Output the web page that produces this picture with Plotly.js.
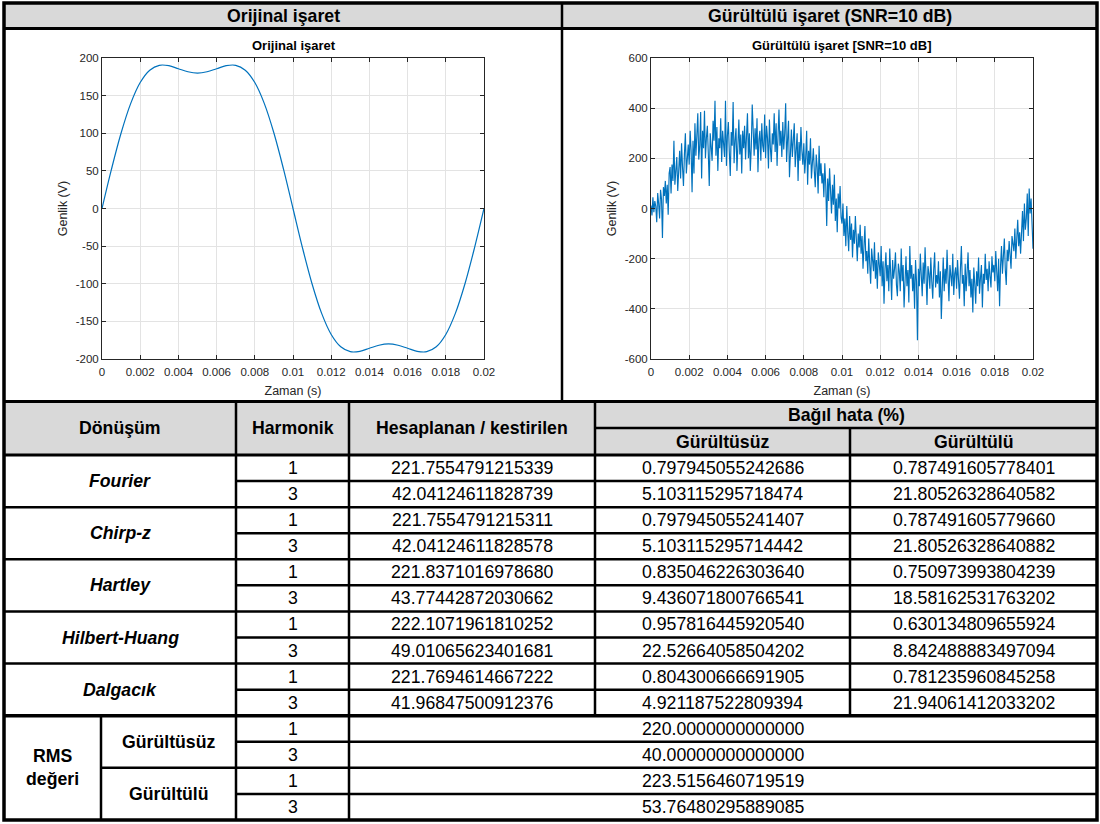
<!DOCTYPE html>
<html><head><meta charset="utf-8">
<script src="https://cdn.plot.ly/plotly-3.0.1.min.js"></script>
<style>html,body{margin:0;padding:0;background:#fff}#chart{width:1100px;height:824px}</style>
</head><body><div id="chart"></div>
<script>
// ---------- data ----------
const originalStep = 0.0005; // s between samples of the clean signal
const originalSignal = [0, 52.6, 100.3, 139.4, 167.4, 183.8, 190.3, 189.8, 185.7, 181.7, 180,
  181.7, 185.7, 189.8, 190.3, 183.8, 167.4, 139.4, 100.3, 52.6, 0,
  -52.6, -100.3, -139.4, -167.4, -183.8, -190.3, -189.8, -185.7, -181.7, -180,
  -181.7, -185.7, -189.8, -190.3, -183.8, -167.4, -139.4, -100.3, -52.6, 0];

const noisyStep = 0.00005; // s between samples of the noisy signal
const noisySignal = [
  12, -28, 45, -15, 30, 8, -55, 62, 20, -40, 75, 38, -118, 85, 50, 110, 20, 95, -25, 140,
  165, 60, 175, 110, 270, 95, 150, 205, 70, 180, 230, 120, 260, 165, 90, 215, 300, 140, 200, 255,
  175, 310, 230, 65, 270, 140, 340, 210, 290, 380, 195, 250, 385, 120, 310, 240, 390, 200, 280, 330,
  220, 90, 300, 255, 190, 350, 270, 430, 210, 325, 150, 280, 240, 360, 185, 310, 265, 205, 430, 170,
  290, 345, 225, 130, 305, 250, 425, 180, 270, 320, 150, 260, 355, 215, 295, 140, 310, 240, 330, 195,
  265, 380, 200, 300, 150, 245, 415, 280, 210, 320, 235, 360, 145, 275, 310, 190, 340, 250, 225, 375,
  200, 330, 280, 160, 355, 240, 185, 300, 255, 380, 225, 340, 170, 290, 395, 250, 310, 205, 345, 235,
  300, 420, 185, 275, 350, 125, 250, 315, 205, 280, 340, 165, 235, 300, 110, 265, 190, 325, 230, 175,
  260, 140, 205, 310, 95, 230, 175, 280, 120, 190, 240, 150, 85, 215, 165, 60, 250, 130, 180, 100,
  140, 45, 180, 90, -70, 120, 30, 160, 70, -20, 95, 15, 135, -50, 40, -95, 60, 0, 90, -35,
  -60, 20, -110, -40, -150, 10, -95, -170, -30, -125, -60, -195, -85, -140, -30, -170, -210, -100, -155, -65,
  -180, -110, -240, -150, -70, -210, -170, -260, -120, -220, -300, -160, -195, -250, -135, -280, -205, -320, -175, -235,
  -270, -150, -310, -210, -380, -240, -175, -290, -225, -330, -160, -260, -365, -205, -280, -240, -175, -305, -350, -220,
  -250, -330, -160, -290, -225, -395, -270, -190, -310, -245, -375, -150, -280, -225, -330, -260, -400, -205, -290, -525,
  -240, -310, -180, -270, -350, -215, -300, -155, -275, -385, -230, -260, -320, -195, -290, -360, -245, -175, -315, -265,
  -300, -210, -355, -250, -440, -280, -195, -330, -240, -300, -165, -275, -370, -225, -290, -310, -180, -345, -260, -235,
  -320, -205, -285, -360, -240, -150, -300, -265, -390, -220, -330, -270, -175, -310, -245, -355, -280, -415, -235, -300,
  -380, -250, -310, -195, -340, -275, -225, -395, -260, -300, -180, -285, -240, -330, -210, -270, -315, -190, -255, -225,
  -290, -170, -250, -330, -200, -390, -230, -150, -260, -195, -120, -245, -305, -165, -210, -130, -180, -240, -110, -150,
  -170, -80, -200, -120, -45, -150, -95, -180, -60, -10, -130, 20, -85, -40, 60, -110, 80, -20, 40, -60,
  -160];

const timeTickVals = [0, 0.002, 0.004, 0.006, 0.008, 0.01, 0.012, 0.014, 0.016, 0.018, 0.02];
const timeTickText = ['0', '0.002', '0.004', '0.006', '0.008', '0.01', '0.012', '0.014', '0.016', '0.018', '0.02'];
const origTickVals = [-200, -150, -100, -50, 0, 50, 100, 150, 200];
const origTickText = ['-200', '-150', '-100', '-50', '0', '50', '100', '150', '200'];
const noisyTickVals = [-600, -400, -200, 0, 200, 400, 600];
const noisyTickText = ['-600', '-400', '-200', '0', '200', '400', '600'];

const panelTitles = ['Orijinal işaret', 'Gürültülü işaret (SNR=10 dB)'];
const plotTitles = ['Orijinal işaret', 'Gürültülü işaret [SNR=10 dB]'];
const xTitle = 'Zaman (s)';
const yTitle = 'Genlik (V)';

const headerLabels = ['Dönüşüm', 'Harmonik', 'Hesaplanan / kestirilen', 'Bağıl hata (%)', 'Gürültüsüz', 'Gürültülü'];
const methods = ['Fourier', 'Chirp-z', 'Hartley', 'Hilbert-Huang', 'Dalgacık'];
const harmonics = ['1', '3'];
const estimated = ['221.7554791215339', '42.04124611828739', '221.7554791215311', '42.04124611828578',
  '221.8371016978680', '43.77442872030662', '222.1071961810252', '49.01065623401681',
  '221.7694614667222', '41.96847500912376'];
const errorClean = ['0.797945055242686', '5.103115295718474', '0.797945055241407', '5.103115295714442',
  '0.835046226303640', '9.436071800766541', '0.957816445920540', '22.52664058504202',
  '0.804300666691905', '4.921187522809394'];
const errorNoisy = ['0.787491605778401', '21.80526328640582', '0.787491605779660', '21.80526328640882',
  '0.750973993804239', '18.58162531763202', '0.630134809655924', '8.842488883497094',
  '0.781235960845258', '21.94061412033202'];
const rmsLabel = 'RMS<br>değeri';
const rmsGroups = ['Gürültüsüz', 'Gürültülü'];
const rmsClean = ['220.0000000000000', '40.00000000000000'];
const rmsNoisy = ['223.5156460719519', '53.76480295889085'];

// ---------- layout helpers ----------
const W = 1100, H = 824;
const px = x => x / W;
const py = y => 1 - y / H;
const FONT = 'Liberation Sans, Arial, sans-serif';
const TS = 17.7; // table font size
const AX = '#262626';
const LINEC = '#0072BD';

const shapes = [];
const annotations = [];
function fillRect(x0, y0, x1, y1, c) {
  shapes.push({type: 'rect', xref: 'paper', yref: 'paper', x0: px(x0), x1: px(x1), y0: py(y1), y1: py(y0),
    fillcolor: c, line: {width: 0}, layer: 'below'});
}
function hline(y, x0, x1, w) {
  shapes.push({type: 'line', xref: 'paper', yref: 'paper', x0: px(x0), x1: px(x1), y0: py(y), y1: py(y),
    line: {color: '#000', width: w}, layer: 'above'});
}
function vline(x, y0, y1, w) {
  shapes.push({type: 'line', xref: 'paper', yref: 'paper', x0: px(x), x1: px(x), y0: py(y0), y1: py(y1),
    line: {color: '#000', width: w}, layer: 'above'});
}
function label(x, y, s, size, color) {
  annotations.push({xref: 'paper', yref: 'paper', x: px(x), y: py(y), text: s, showarrow: false,
    xanchor: 'center', yanchor: 'middle', font: {family: FONT, size: size || TS, color: color || '#000'}});
}

// geometry
const L = 4, R = 1097, T = 3, B = 820;
const headBottom = 28.5, plotBottom = 401.5, tableHeadMid = 428, tableTop = 455;
const nRows = 14, rowH = (B - tableTop) / nRows;
const colX = [L, 236, 349, 595, 850, R];
const rmsSplitX = 101;
const rowY = i => tableTop + i * rowH;
const rowMid = i => tableTop + (i + 0.5) * rowH;

// fills
fillRect(L, T, R, headBottom, '#d9d9d9');
fillRect(L, plotBottom, R, tableTop, '#d9d9d9');

// top headers
label((L + 562) / 2, 16, '<b>' + panelTitles[0] + '</b>');
label((562 + R) / 2, 16, '<b>' + panelTitles[1] + '</b>');
// plot titles
label(294, 46, '<b>' + plotTitles[0] + '</b>', 13, '#000');
label(842, 46, '<b>' + plotTitles[1] + '</b>', 13, '#000');

// table header
label((colX[0] + colX[1]) / 2, (plotBottom + tableTop) / 2, '<b>' + headerLabels[0] + '</b>');
label((colX[1] + colX[2]) / 2, (plotBottom + tableTop) / 2, '<b>' + headerLabels[1] + '</b>');
label((colX[2] + colX[3]) / 2, (plotBottom + tableTop) / 2, '<b>' + headerLabels[2] + '</b>');
label((colX[3] + colX[5]) / 2, (plotBottom + tableHeadMid) / 2, '<b>' + headerLabels[3] + '</b>');
label((colX[3] + colX[4]) / 2, (tableHeadMid + tableTop) / 2, '<b>' + headerLabels[4] + '</b>');
label((colX[4] + colX[5]) / 2, (tableHeadMid + tableTop) / 2, '<b>' + headerLabels[5] + '</b>');

// method rows
methods.forEach((m, g) => {
  label((colX[0] + colX[1]) / 2, rowY(2 * g + 1), '<b><i>' + m + '</i></b>');
  harmonics.forEach((h, k) => {
    const r = 2 * g + k, idx = r;
    label((colX[1] + colX[2]) / 2, rowMid(r), h);
    label((colX[2] + colX[3]) / 2, rowMid(r), estimated[idx]);
    label((colX[3] + colX[4]) / 2, rowMid(r), errorClean[idx]);
    label((colX[4] + colX[5]) / 2, rowMid(r), errorNoisy[idx]);
  });
});
// RMS rows
label((L + rmsSplitX) / 2, rowY(12), '<b>' + rmsLabel + '</b>');
[rmsClean, rmsNoisy].forEach((vals, g) => {
  label((rmsSplitX + colX[1]) / 2, rowY(10 + 2 * g + 1), '<b>' + rmsGroups[g] + '</b>');
  harmonics.forEach((h, k) => {
    const r = 10 + 2 * g + k;
    label((colX[1] + colX[2]) / 2, rowMid(r), h);
    label((colX[2] + colX[5]) / 2, rowMid(r), vals[k]);
  });
});

// borders
hline(headBottom, L, R, 3);
hline(plotBottom, L, R, 3);
vline(562, T, plotBottom, 2.5);
hline(tableHeadMid, colX[3], R, 2.5);
hline(tableTop, L, R, 3);
vline(colX[1], plotBottom, B, 2.5);
vline(colX[2], plotBottom, B, 2.5);
vline(colX[3], plotBottom, rowY(10), 2.5);
vline(colX[4], tableHeadMid, rowY(10), 2.5);
vline(rmsSplitX, rowY(10), B, 2.5);
for (let g = 0; g < 5; g++) {
  if (g > 0) hline(rowY(2 * g), L, R, 2.5);
  hline(rowY(2 * g + 1), colX[1], R, 2.5);
}
hline(rowY(10), L, R, 3.5);
hline(rowY(11), colX[1], R, 2.5);
hline(rowY(12), rmsSplitX, R, 2.5);
hline(rowY(13), colX[1], R, 2.5);
shapes.push({type: 'rect', xref: 'paper', yref: 'paper', x0: px(L), x1: px(R), y0: py(B), y1: py(T),
  line: {color: '#000', width: 3.5}, layer: 'above'});

// ---------- traces ----------
const traces = [
  {x: originalSignal.map((_, i) => i * originalStep), y: originalSignal, type: 'scatter', mode: 'lines',
   line: {color: LINEC, width: 1.2, shape: 'spline', smoothing: 1}, xaxis: 'x', yaxis: 'y', hoverinfo: 'skip'},
  {x: noisySignal.map((_, i) => i * noisyStep), y: noisySignal, type: 'scatter', mode: 'lines',
   line: {color: LINEC, width: 1.15}, xaxis: 'x2', yaxis: 'y2', hoverinfo: 'skip'}
];

function axis(extra) {
  return Object.assign({
    showline: true, linecolor: AX, linewidth: 1, mirror: 'ticks', ticks: 'inside', ticklen: 4,
    tickcolor: AX, tickwidth: 1, showgrid: true, gridcolor: '#e3e3e3', gridwidth: 1, zeroline: false,
    tickfont: {family: FONT, size: 11.5, color: AX}, tickmode: 'array', automargin: false, fixedrange: true
  }, extra);
}
const yTop = py(58), yBot = py(359);
const xt = {text: xTitle, font: {family: FONT, size: 12.5, color: AX}, standoff: 9};
const yt = {text: yTitle, font: {family: FONT, size: 12.5, color: AX}, standoff: 5};
const layout = {
  width: W, height: H, margin: {l: 0, r: 0, t: 0, b: 0}, showlegend: false,
  paper_bgcolor: '#fff', plot_bgcolor: '#fff',
  xaxis: axis({domain: [px(102), px(484)], range: [0, 0.02], tickvals: timeTickVals, ticktext: timeTickText,
    anchor: 'y', ticklabelstandoff: 2, title: xt}),
  yaxis: axis({domain: [yBot, yTop], range: [-200, 200], tickvals: origTickVals, ticktext: origTickText,
    anchor: 'x', title: yt}),
  xaxis2: axis({domain: [px(651), px(1033)], range: [0, 0.02], tickvals: timeTickVals, ticktext: timeTickText,
    anchor: 'y2', ticklabelstandoff: 2, title: xt}),
  yaxis2: axis({domain: [yBot, yTop], range: [-600, 600], tickvals: noisyTickVals, ticktext: noisyTickText,
    anchor: 'x2', title: yt}),
  shapes: shapes, annotations: annotations
};
Plotly.newPlot('chart', traces, layout, {displayModeBar: false, staticPlot: true});
</script>
</body></html>
